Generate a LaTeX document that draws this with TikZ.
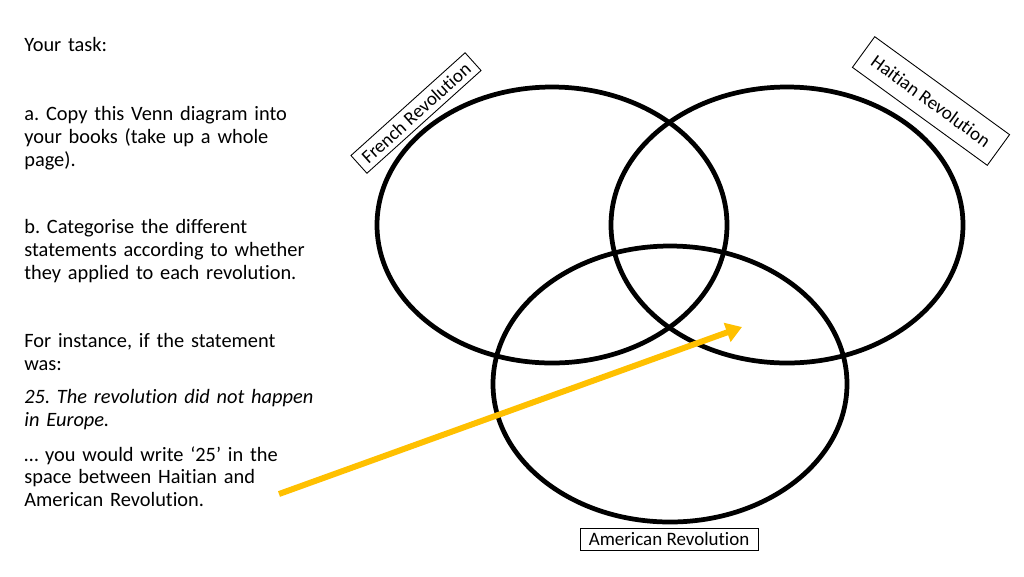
\documentclass[tikz,border=0pt]{standalone}
\usepackage{fontspec}
\setmainfont{Carlito}[Ligatures=NoCommon]
\usepackage{tikz}
\usepackage{xcolor}
\usetikzlibrary{arrows.meta}
\definecolor{arrowgold}{HTML}{FFC000}
\frenchspacing

\begin{document}
\begin{tikzpicture}[x=0.02cm, y=-0.02cm, font=\fontsize{11.6pt}{13pt}\selectfont,
    set/.style={draw=black, line width=2.7pt},
    tag/.style={draw=black, line width=0.5pt, fill=white, inner xsep=5pt, inner ysep=2.5pt, font=\fontsize{10.8pt}{12pt}\selectfont},
    para/.style={anchor=north west, align=left, inner sep=0pt, text width=8.2cm}]
  \useasboundingbox (0,0) rectangle (1024,576);
  % instructions
  \node[para] (task) at (24,37) {Your task:};
  \node[para] (partA) at (24,106) {a. Copy this Venn diagram into\\your books (take up a whole\\page).};
  \node[para] (partB) at (24,219) {b. Categorise the different\\statements according to whether\\they applied to each revolution.};
  \node[para] (example) at (24,333) {For instance, if the statement\\was:};
  \node[para] (statement) at (24,389) {\itshape 25. The revolution did not happen\\in Europe.};
  \node[para] (answer) at (24,446) {\dots\ you would write `25' in the\\space between Haitian and\\American Revolution.};
  % the three sets
  \draw[set] (552,225) ellipse (175 and 138);
  \draw[set] (787,225) ellipse (176 and 138);
  \draw[set] (670,384) ellipse (177 and 138);
  % labels
  \node[tag, rotate=42, inner xsep=4pt, inner ysep=3pt] (french) at (416,113) {French Revolution};
  \node[tag, rotate=-36, inner xsep=7pt, inner ysep=7pt] (haiti) at (931,101) {Haitian Revolution};
  \node[tag] (america) at (669,539) {American Revolution};
  % pointer into Haitian/American overlap
  \coordinate (from) at (279,494);
  \coordinate (to) at (742,327);
  \draw[arrowgold, line width=3.4pt, -{Triangle[length=9pt, width=11pt]}] (from) -- (to);
\end{tikzpicture}
\end{document}
